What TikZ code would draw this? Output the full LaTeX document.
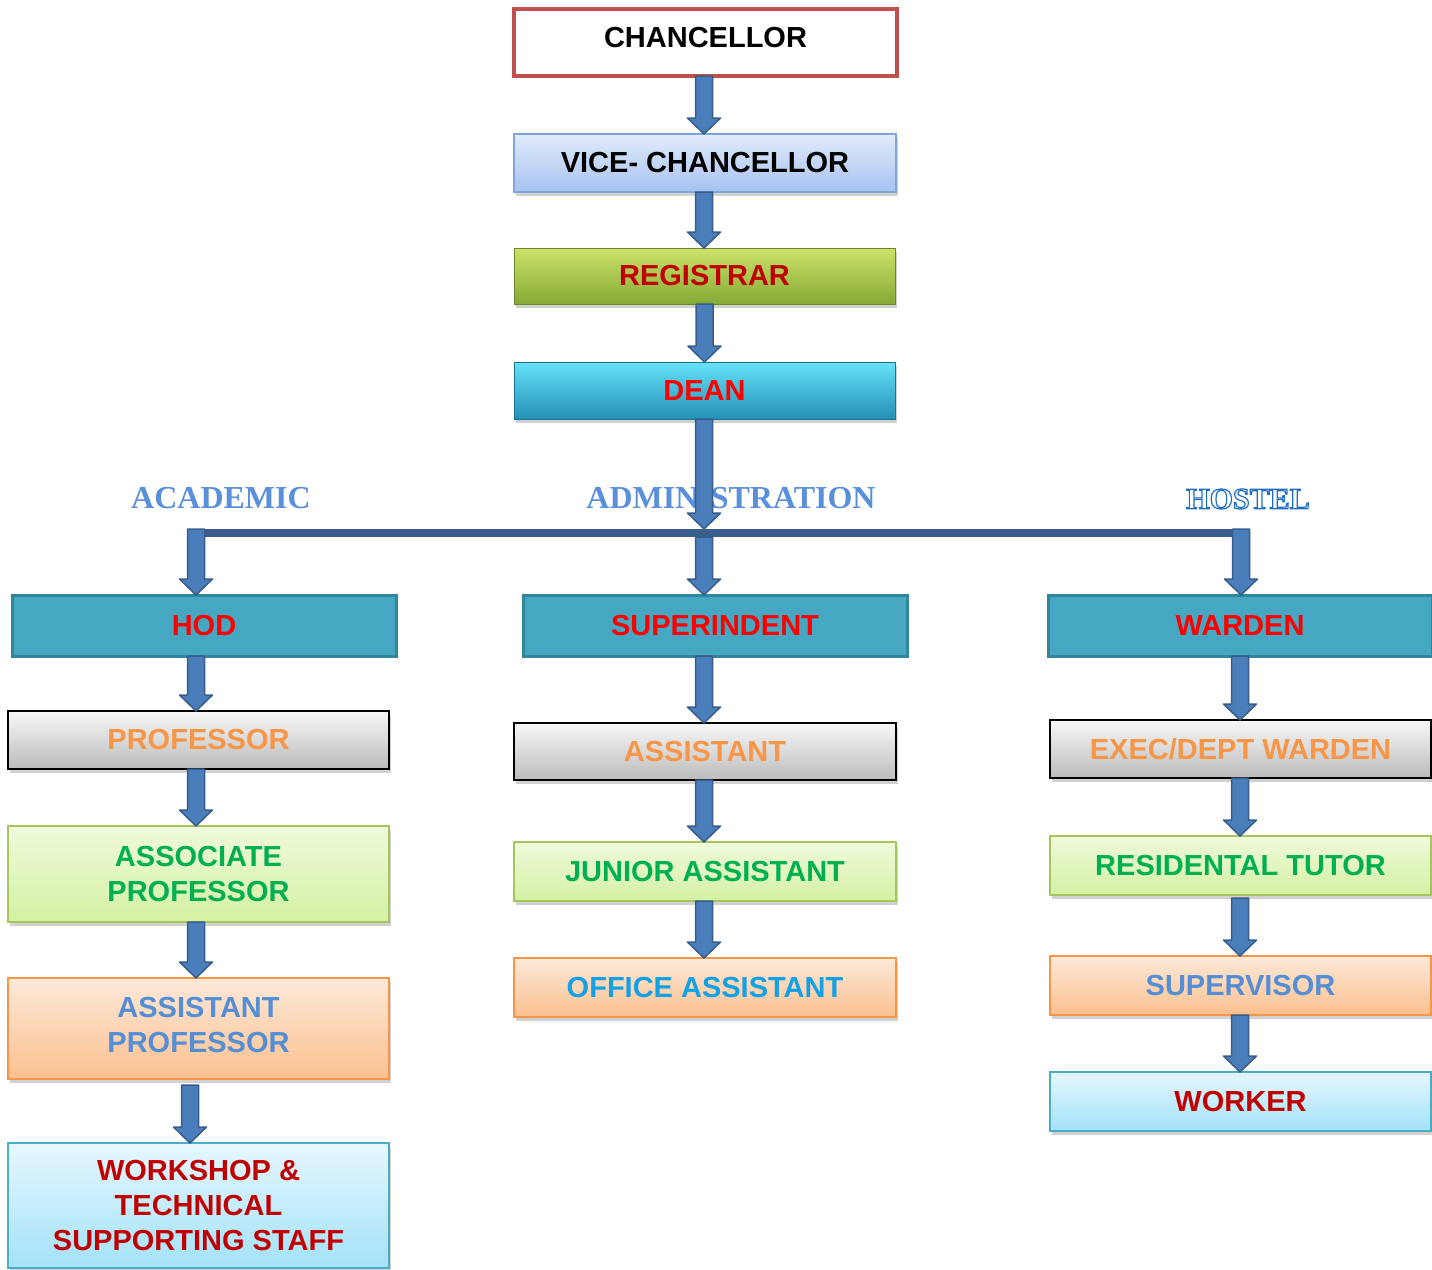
\documentclass[tikz,border=0pt]{standalone}
\usepackage{fontspec}
\setmainfont{Liberation Sans}
\newfontfamily\serifhdr{Liberation Serif}
\usetikzlibrary{calc,shadows}
\definecolor{chanred}{HTML}{C0504D}
\definecolor{vcborder}{HTML}{7FA6D9}
\definecolor{vctop}{HTML}{E2EBFC}
\definecolor{vcbot}{HTML}{A6C2F0}
\definecolor{regtop}{HTML}{CDE36A}
\definecolor{regbot}{HTML}{86A935}
\definecolor{deantop}{HTML}{66E2F9}
\definecolor{deanbot}{HTML}{2390B5}
\definecolor{tealfill}{HTML}{45A7C1}
\definecolor{tealborder}{HTML}{31859C}
\definecolor{graytop}{HTML}{F7F7F7}
\definecolor{graybot}{HTML}{BCBCBC}
\definecolor{greentop}{HTML}{F0FADC}
\definecolor{greenbot}{HTML}{D3F1A2}
\definecolor{greenborder}{HTML}{A4C65C}
\definecolor{peachtop}{HTML}{FDE9D9}
\definecolor{peachbot}{HTML}{FAC08F}
\definecolor{peachborder}{HTML}{F79646}
\definecolor{cyantop}{HTML}{E6F7FD}
\definecolor{cyanbot}{HTML}{A3E2FA}
\definecolor{cyanborder}{HTML}{4BACC6}
\definecolor{darkred}{HTML}{C00000}
\definecolor{brightred}{HTML}{FF0000}
\definecolor{orangetxt}{HTML}{F79646}
\definecolor{greentxt}{HTML}{00B050}
\definecolor{bluetxt}{HTML}{558ED5}
\definecolor{skytxt}{HTML}{12A0E6}
\definecolor{hdrblue}{HTML}{5A8FDC}
\definecolor{hostelblue}{HTML}{1F6FC0}
\definecolor{arrfill}{HTML}{4A7EBB}
\definecolor{arrdraw}{HTML}{385D8A}
\definecolor{busline}{HTML}{3A5F8E}

\newcommand{\blockarrow}[2]{%
  \path[blockarr] let \p1=(#1), \p2=(#2) in
    (\x1-8.5pt,\y1) -- (\x1-8.5pt,\y2+16pt) -- (\x1-16.5pt,\y2+16pt) -- (\x1,\y2)
    -- (\x1+16.5pt,\y2+16pt) -- (\x1+8.5pt,\y2+16pt) -- (\x1+8.5pt,\y1) -- cycle;}

\begin{document}
\begin{tikzpicture}[x=1pt,y=-1pt,
  sz/.style 2 args={minimum width=#1pt, minimum height=#2pt},
  box/.style={rectangle, inner sep=0pt, outer sep=0pt, align=center,
    font=\fontsize{29}{35}\selectfont\bfseries, line width=2pt},
  shd/.style={drop shadow={shadow xshift=2pt,shadow yshift=-4pt,opacity=.18,fill=black}},
  chanbox/.style={box, draw=chanred, line width=3.5pt, fill=white, text=black},
  vcbox/.style={box, shd, draw=vcborder, top color=vctop, bottom color=vcbot, text=black},
  regbox/.style={box, shd, draw=regbot!80!black, line width=0.8pt, top color=regtop, bottom color=regbot, text=darkred},
  deanbox/.style={box, shd, draw=deanbot!80!black, line width=0.8pt, top color=deantop, bottom color=deanbot, text=brightred},
  tealbox/.style={box, draw=tealborder, line width=3pt, fill=tealfill, text=brightred},
  graybox/.style={box, shd, draw=black, top color=graytop, bottom color=graybot, text=orangetxt},
  greenbox/.style={box, shd, draw=greenborder, top color=greentop, bottom color=greenbot, text=greentxt},
  peachbox/.style={box, shd, draw=peachborder, top color=peachtop, bottom color=peachbot, text=bluetxt},
  cyanbox/.style={box, shd, draw=cyanborder, top color=cyantop, bottom color=cyanbot, text=darkred},
  hdr/.style={inner sep=0pt, font=\serifhdr\fontsize{32}{36}\selectfont\bfseries, text=hdrblue},
  blockarr/.style={fill=arrfill, draw=arrdraw, line width=1.5pt, line join=round}
]
\useasboundingbox (0,0) rectangle (1432,1269);

% top chain
\node[chanbox, sz={383}{67}] (chan) at (705.5,42.5) {\raisebox{5pt}[\height][\depth]{CHANCELLOR}};
\node[vcbox, sz={382}{58}] (vc) at (705,163) {VICE- CHANCELLOR};
\node[regbox, sz={381}{56}] (reg) at (704.5,276) {REGISTRAR};
\node[deanbox, sz={381}{57}] (dean) at (704.5,390.5) {DEAN};

% headers
\node[hdr] (lacad) at (221,498) {ACADEMIC};
\node[hdr] (ladmin) at (731,498) {ADMINISTRATION};
\node[hdr, text=hostelblue, font=\serifhdr\fontsize{30}{34}\selectfont\bfseries] (lhostel) at (1248,499)
  {\special{pdf:literal direct 1 Tr 1.2 w}HOSTEL\special{pdf:literal direct 0 Tr}};

% bus
\coordinate (busL) at (196,529);
\coordinate (busM) at (704,529);
\coordinate (busMb) at (704,537);
\coordinate (busR) at (1241,529);
\draw[busline, line width=8pt] ([yshift=-4pt]busL) -- ([yshift=-4pt]busR);

% second level
\node[tealbox, sz={384}{61}] (hod) at (204,625.5) {HOD};
\node[tealbox, sz={384}{61}] (supr) at (715,625.5) {SUPERINDENT};
\node[tealbox, sz={384}{61}] (ward) at (1240,625.5) {WARDEN};

% academic column
\node[graybox, sz={381}{58}] (prof) at (198.5,740) {PROFESSOR};
\node[greenbox, sz={381}{96}] (assoc) at (198.5,874) {ASSOCIATE\\PROFESSOR};
\node[peachbox, sz={381}{101}] (asstp) at (198.5,1028.5) {ASSISTANT\\PROFESSOR\\[-27pt]\mbox{}};
\node[cyanbox, sz={381}{125}] (work) at (198.5,1205.5) {WORKSHOP \&\\TECHNICAL\\SUPPORTING STAFF};

% administration column
\node[graybox, sz={382}{57}] (asst) at (705,751.5) {ASSISTANT};
\node[greenbox, sz={382}{59}] (jun) at (705,871.5) {JUNIOR ASSISTANT};
\node[peachbox, sz={382}{59}, text=skytxt] (office) at (705,987.5) {OFFICE ASSISTANT};

% hostel column
\node[graybox, sz={381}{58}] (exec) at (1240.5,749) {EXEC/DEPT WARDEN};
\node[greenbox, sz={381}{59}] (res) at (1240.5,865.5) {RESIDENTAL TUTOR};
\node[peachbox, sz={381}{59}] (sup) at (1240.5,985.5) {SUPERVISOR};
\node[cyanbox, sz={381}{59}] (worker) at (1240.5,1101.5) {WORKER};

% arrows
\blockarrow{[xshift=-1.5pt]chan.south}{vc.north}
\blockarrow{[xshift=-1pt]vc.south}{reg.north}
\blockarrow{reg.south}{dean.north}
\blockarrow{[xshift=-0.5pt]dean.south}{busM}
\blockarrow{busL}{hod.north}
\blockarrow{busMb}{supr.north}
\blockarrow{busR}{ward.north}

\blockarrow{[xshift=-8pt]hod.south}{prof.north}
\blockarrow{[xshift=-2.5pt]prof.south}{assoc.north}
\blockarrow{[xshift=-2.5pt]assoc.south}{asstp.north}
\blockarrow{[xshift=-8.5pt,yshift=-6pt]asstp.south}{work.north}

\blockarrow{[xshift=-11pt]supr.south}{asst.north}
\blockarrow{[xshift=-1pt]asst.south}{jun.north}
\blockarrow{[xshift=-1pt]jun.south}{office.north}

\blockarrow{ward.south}{exec.north}
\blockarrow{[xshift=-0.5pt]exec.south}{res.north}
\blockarrow{[xshift=-0.5pt,yshift=-3pt]res.south}{sup.north}
\blockarrow{[xshift=-0.5pt]sup.south}{worker.north}
\end{tikzpicture}
\end{document}
